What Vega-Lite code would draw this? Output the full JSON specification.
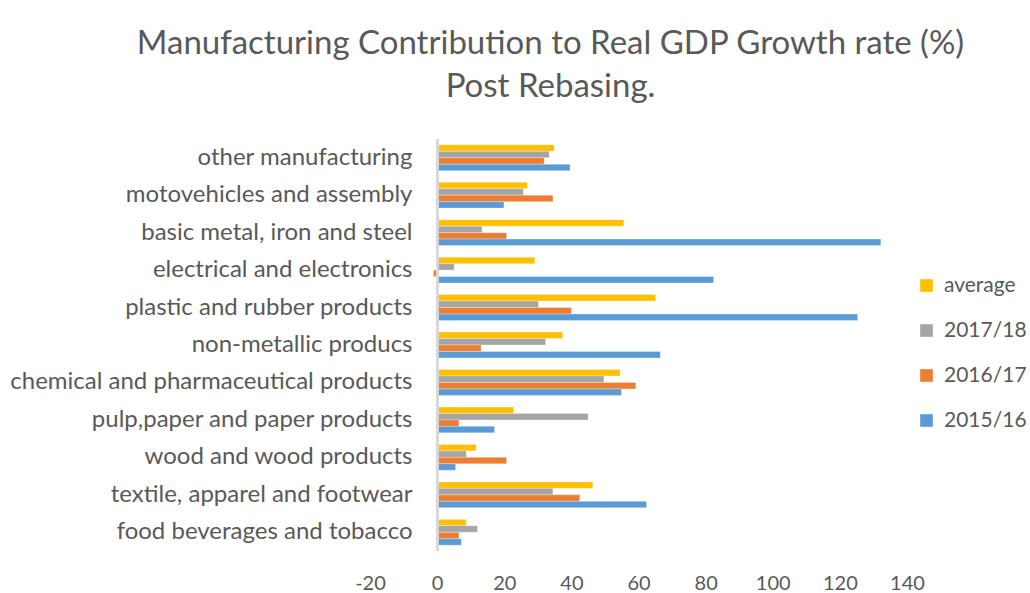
{
  "$schema": "https://vega.github.io/schema/vega-lite/v6.json",
  "autosize": "none",
  "width": 537,
  "height": 412,
  "padding": {"left": 370, "top": 139, "right": 123, "bottom": 42},
  "background": "white",
  "config": {
    "view": {"stroke": null},
    "font": "Lato",
    "axis": {"labelColor": "#595959", "labelFont": "Lato", "grid": false, "ticks": false, "domain": false, "title": null}
  },
  "title": {
    "text": ["Manufacturing Contribution to Real GDP Growth rate (%)", "Post Rebasing."],
    "font": "Lato",
    "fontSize": 33,
    "fontWeight": "normal",
    "color": "#595959",
    "lineHeight": 43,
    "anchor": "middle",
    "dx": -88,
    "offset": 34
  },
  "data": {
    "values": [
      {"cat": "other manufacturing", "series": "average", "value": 34.9},
      {"cat": "other manufacturing", "series": "2017/18", "value": 33.4},
      {"cat": "other manufacturing", "series": "2016/17", "value": 31.9},
      {"cat": "other manufacturing", "series": "2015/16", "value": 39.6},
      {"cat": "motovehicles and assembly", "series": "average", "value": 26.8},
      {"cat": "motovehicles and assembly", "series": "2017/18", "value": 25.7},
      {"cat": "motovehicles and assembly", "series": "2016/17", "value": 34.5},
      {"cat": "motovehicles and assembly", "series": "2015/16", "value": 19.9},
      {"cat": "basic metal, iron and steel", "series": "average", "value": 55.6},
      {"cat": "basic metal, iron and steel", "series": "2017/18", "value": 13.4},
      {"cat": "basic metal, iron and steel", "series": "2016/17", "value": 20.7},
      {"cat": "basic metal, iron and steel", "series": "2015/16", "value": 132.2},
      {"cat": "electrical and electronics", "series": "average", "value": 29.1},
      {"cat": "electrical and electronics", "series": "2017/18", "value": 5.1},
      {"cat": "electrical and electronics", "series": "2016/17", "value": -1.1},
      {"cat": "electrical and electronics", "series": "2015/16", "value": 82.4},
      {"cat": "plastic and rubber products", "series": "average", "value": 65.1},
      {"cat": "plastic and rubber products", "series": "2017/18", "value": 30.2},
      {"cat": "plastic and rubber products", "series": "2016/17", "value": 40.0},
      {"cat": "plastic and rubber products", "series": "2015/16", "value": 125.3},
      {"cat": "non-metallic producs", "series": "average", "value": 37.4},
      {"cat": "non-metallic producs", "series": "2017/18", "value": 32.3},
      {"cat": "non-metallic producs", "series": "2016/17", "value": 13.1},
      {"cat": "non-metallic producs", "series": "2015/16", "value": 66.5},
      {"cat": "chemical and pharmaceutical products", "series": "average", "value": 54.5},
      {"cat": "chemical and pharmaceutical products", "series": "2017/18", "value": 49.7},
      {"cat": "chemical and pharmaceutical products", "series": "2016/17", "value": 59.2},
      {"cat": "chemical and pharmaceutical products", "series": "2015/16", "value": 54.9},
      {"cat": "pulp,paper and paper products", "series": "average", "value": 22.8},
      {"cat": "pulp,paper and paper products", "series": "2017/18", "value": 45.0},
      {"cat": "pulp,paper and paper products", "series": "2016/17", "value": 6.5},
      {"cat": "pulp,paper and paper products", "series": "2015/16", "value": 17.1},
      {"cat": "wood and wood products", "series": "average", "value": 11.6},
      {"cat": "wood and wood products", "series": "2017/18", "value": 8.7},
      {"cat": "wood and wood products", "series": "2016/17", "value": 20.7},
      {"cat": "wood and wood products", "series": "2015/16", "value": 5.5},
      {"cat": "textile, apparel and footwear", "series": "average", "value": 46.4},
      {"cat": "textile, apparel and footwear", "series": "2017/18", "value": 34.5},
      {"cat": "textile, apparel and footwear", "series": "2016/17", "value": 42.5},
      {"cat": "textile, apparel and footwear", "series": "2015/16", "value": 62.4},
      {"cat": "food beverages and tobacco", "series": "average", "value": 8.7},
      {"cat": "food beverages and tobacco", "series": "2017/18", "value": 12.0},
      {"cat": "food beverages and tobacco", "series": "2016/17", "value": 6.5},
      {"cat": "food beverages and tobacco", "series": "2015/16", "value": 7.2}
    ]
  },
  "layer": [
    {
      "mark": {"type": "bar", "stroke": "white", "strokeWidth": 0.5, "strokeOpacity": 0.6},
      "encoding": {
        "y": {
          "field": "cat",
          "type": "nominal",
          "sort": ["other manufacturing", "motovehicles and assembly", "basic metal, iron and steel", "electrical and electronics", "plastic and rubber products", "non-metallic producs", "chemical and pharmaceutical products", "pulp,paper and paper products", "wood and wood products", "textile, apparel and footwear", "food beverages and tobacco"],
          "scale": {"paddingInner": 0.31, "paddingOuter": 0.155},
          "axis": {"offset": -67, "labelPadding": 25, "labelFontSize": 24, "labelLimit": 500}
        },
        "yOffset": {
          "field": "series",
          "type": "nominal",
          "sort": ["average", "2017/18", "2016/17", "2015/16"],
          "scale": {"paddingInner": 0, "paddingOuter": 0}
        },
        "x": {
          "field": "value",
          "type": "quantitative",
          "scale": {"domain": [-20, 140], "nice": false, "zero": false},
          "axis": {"values": [-20, 0, 20, 40, 60, 80, 100, 120, 140], "labelExpr": "'' + datum.value", "labelPadding": 22, "labelFontSize": 20, "labelFlush": false}
        },
        "color": {
          "field": "series",
          "type": "nominal",
          "scale": {"domain": ["average", "2017/18", "2016/17", "2015/16"], "range": ["#FFC000", "#A5A5A5", "#ED7D31", "#5B9BD5"]},
          "legend": {
            "title": null,
            "orient": "none",
            "legendX": 546,
            "legendY": 136,
            "symbolType": "square",
            "symbolSize": 160,
            "symbolStrokeWidth": 0,
            "labelFontSize": 21,
            "labelColor": "#595959",
            "labelFont": "Lato",
            "labelOffset": 7,
            "rowPadding": 23
          }
        }
      }
    },
    {
      "mark": {"type": "rule", "color": "#D9D9D9", "strokeWidth": 2},
      "encoding": {"x": {"datum": 0}}
    }
  ]
}
